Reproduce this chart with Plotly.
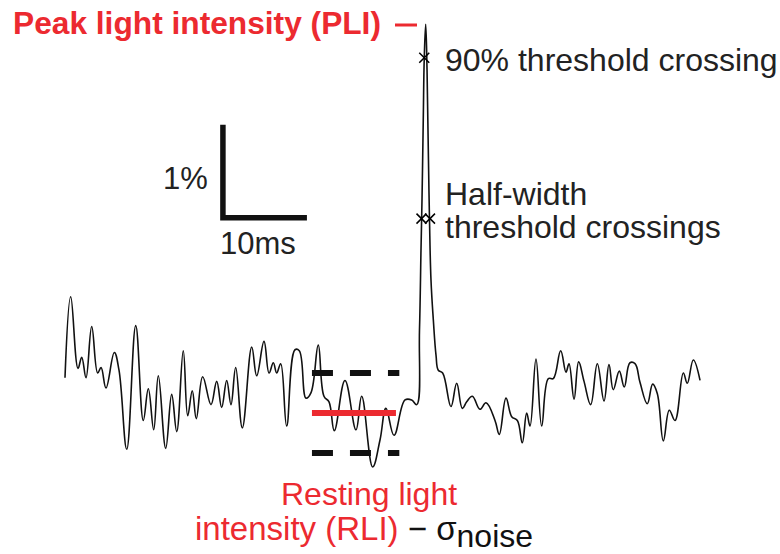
import plotly.graph_objects as go

# ---- data (time in ms, fluorescence change in % relative to RLI) ----
time_ms = [0.00, 0.68, 1.55, 1.99, 2.50, 3.18, 3.89, 4.29, 4.88, 5.87, 6.43, 7.35, 8.42, 9.32, 9.92,
           10.56, 11.11, 11.99, 12.70, 13.30, 14.08, 14.61, 15.15, 15.63, 16.39, 17.38, 18.06, 18.65,
           19.25, 19.76, 20.32, 21.11, 22.23, 22.82, 23.69, 24.29, 24.80, 25.20, 25.68, 26.39, 27.38,
           27.89, 28.69, 29.29, 30.15, 30.83, 31.43, 32.06, 33.33, 34.64, 35.32, 36.63, 37.50, 38.21,
           39.17, 40.48, 41.27, 41.87, 42.20, 42.38, 42.50, 42.65, 42.77, 42.94, 43.10, 43.27, 43.39,
           43.57, 43.85, 44.17, 44.44, 44.96, 45.95, 46.63, 47.30, 47.82, 48.49, 49.40, 50.12, 51.19,
           51.70, 52.50, 53.18, 53.85, 54.44, 54.96, 55.36, 56.07, 56.75, 57.54, 58.13, 59.01, 59.64,
           60.00, 60.60, 61.15, 61.79, 62.58, 63.37, 64.17, 64.76, 65.27, 65.99, 66.58, 67.26, 67.86,
           68.45, 69.32, 69.96, 70.51, 71.23, 71.94, 72.62, 73.61, 74.08, 74.80, 75.60]
signal_pct = [0.38, 1.25, 0.48, 0.60, 0.38, 0.93, 0.43, 0.49, 0.27, 0.65, 0.46, -0.39, 0.94, -0.08, 0.26,
              -0.18, 0.40, -0.38, 0.20, -0.20, 0.67, -0.03, 0.24, -0.06, 0.39, 0.09, 0.34, 0.06,
              0.35, 0.09, 0.49, -0.16, 0.71, 0.40, 0.77, 0.43, 0.54, 0.43, 0.53, -0.14, 0.68,
              0.67, 0.16, 0.22, 0.73, 0.18, 0.12, -0.19, 0.35, -0.18, 0.18, -0.58, -0.29, 0.05,
              -0.24, 0.14, 0.14, 0.09, 0.89, 1.75, 2.29, 3.15, 3.82, 4.18, 3.69, 2.72, 2.09,
              1.43, 1.00, 0.62, 0.46, 0.43, 0.07, 0.32, 0.05, 0.12, 0.18, 0.04, 0.11, -0.08,
              -0.23, 0.16, -0.04, -0.08, -0.32, 0.00, -0.14, 0.58, -0.14, 0.37, 0.37, 0.67, 0.44,
              0.53, 0.15, 0.55, 0.34, 0.09, 0.53, 0.13, 0.52, 0.25, 0.45, 0.28, 0.54, 0.53,
              0.33, 0.10, 0.31, 0.21, -0.30, 0.03, -0.08, 0.43, 0.32, 0.57, 0.35]

rli_level = 0.0          # resting light intensity
sigma_noise = 0.43       # noise standard deviation (%)
rli_window = [29.4, 39.4]
sigma_window = [29.4, 39.8]
cross90_t = [42.77]
cross90_v = [3.82]
half_t = [42.44, 43.45]
half_v = [2.09, 2.09]
scalebar_t = [18.8, 18.8, 28.8]   # 10 ms
scalebar_v = [3.1, 2.1, 2.1]      # 1 %

RED = "#ec2a30"
FONT = "Liberation Sans, Arial, sans-serif"
W, H = 780, 554

fig = go.Figure()
fig.add_trace(go.Scatter(x=time_ms, y=signal_pct, mode="lines",
                         line=dict(color="#111", width=1.6, shape="spline", smoothing=1.15),
                         hoverinfo="skip"))
for s in (1, -1):
    fig.add_trace(go.Scatter(x=sigma_window, y=[rli_level + s * sigma_noise] * 2, mode="lines",
                             line=dict(color="#111", width=6, dash="21px,17px")))
fig.add_trace(go.Scatter(x=rli_window, y=[rli_level] * 2, mode="lines",
                         line=dict(color=RED, width=6)))
fig.add_trace(go.Scatter(x=cross90_t + half_t, y=cross90_v + half_v, mode="markers",
                         marker=dict(symbol="x-thin", size=10, line=dict(color="black", width=1.5))))
fig.add_trace(go.Scatter(x=scalebar_t, y=scalebar_v, mode="lines",
                         line=dict(color="#111", width=5.5)))

def X(px):
    return px / W

def Y(py):
    return 1 - py / H

ann = []
def text(t, px, py, xa="left", color="#222", size=32, bold=False):
    if bold:
        t = "<b>" + t + "</b>"
    ann.append(dict(text=t, x=X(px), y=Y(py), xref="paper", yref="paper", xanchor=xa,
                    yanchor="middle", showarrow=False, borderpad=0,
                    font=dict(family=FONT, size=size, color=color)))

text("Peak light intensity (PLI)", 12, 23, color=RED, size=31.7, bold=True)
text("90% threshold crossing", 444, 60)
text("1%", 209, 178, xa="right", size=31)
text("10ms", 219, 243, size=31)
text("Half-width", 444, 194)
text("threshold crossings", 444, 227)
text("Resting light", 369, 494, xa="center", color=RED)
text("intensity (RLI) <span style='color:#111'>− σ<sub><span style='font-size:32px'>noise</span></sub></span>",
     194, 532, color=RED, size=33)

fig.update_layout(
    width=W, height=H, margin=dict(l=0, r=0, t=0, b=0),
    paper_bgcolor="white", plot_bgcolor="white", showlegend=False,
    xaxis=dict(range=[-65 / 8.4, 715 / 8.4], visible=False, fixedrange=True),
    yaxis=dict(range=[-141 / 93, 413 / 93], visible=False, fixedrange=True),
    annotations=ann,
    shapes=[dict(type="line", xref="paper", yref="paper", x0=X(395), x1=X(417), y0=Y(25), y1=Y(25),
                 line=dict(color=RED, width=3))],
)
fig.write_html("out.html")
